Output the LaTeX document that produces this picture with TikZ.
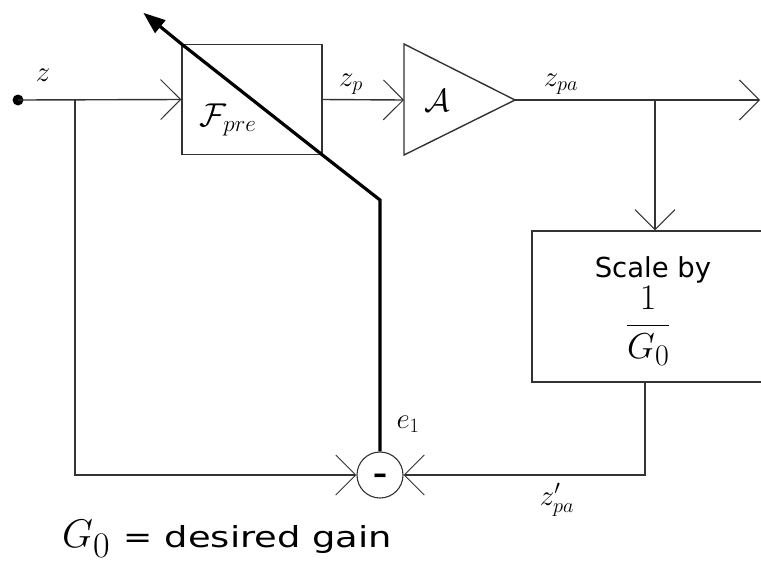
\RequirePackage{fix-cm}
\documentclass[tikz,border=0pt]{standalone}
\usepackage{amsmath}
\usepackage{graphicx}
\usepackage{fontspec}
\newfontfamily\dejavu{DejaVu Sans}
\usetikzlibrary{arrows.meta,calc}
\newcommand\fsz[1]{\fontsize{#1}{#1}\selectfont}
\newcommand\Gsub[2]{$G$\raisebox{-#2}{\fsz{#1}0}}
\begin{document}
\begin{tikzpicture}[x=1pt,y=-1pt,
  ln/.style={line width=1.4pt,draw=black!80},
  heavy/.style={line width=3.2pt,draw=black},
  barb/.style={-{Straight Barb[length=20pt,width=40pt,line width=1pt]}},
  boxnode/.style={draw=black!80,line width=1.4pt,inner sep=0pt},
  lbl/.style={inner sep=0pt,font=\fsz{29}}]
\useasboundingbox (0,0) rectangle (761,566);
\clip (0,0) rectangle (761,566);
\fill[white] (0,0) rectangle (761,566);

% nodes
\node[circle,fill=black,inner sep=0pt,minimum size=11pt] (in) at (18,100) {};
\node[boxnode,minimum width=140pt,minimum height=110pt] (fpre) at (252,99.5) {};
\node[boxnode,minimum width=243pt,minimum height=151pt] (scale) at (653.5,306.5) {};
\node[circle,draw=black!80,line width=1.1pt,inner sep=0pt,minimum size=46pt] (sum) at (380,475) {};

% amplifier
\coordinate (atop) at (404,44);
\coordinate (abot) at (404,155);
\coordinate (ain) at (404,100);
\coordinate (aout) at (515,100);
\draw[ln,line join=miter] (atop) -- (aout) -- (abot) -- cycle;

% helper coordinates
\coordinate (br1) at (75,100);
\coordinate (br2) at (655,100);
\coordinate (out) at (760,100);
\coordinate (sout) at (645,382);
\coordinate (bend) at (380,200);
\coordinate (tip) at ($(fpre.north west)+(-38,-31)$);

% connectors
\draw[ln,barb] (in.center) -- (fpre.west);
\draw[ln,barb] (fpre.east) -- (ain);
\draw[ln,barb] (aout) -- (out);
\draw[ln,barb] (br2) -- (br2 |- scale.north);
\draw[ln,barb] (br1) |- (sum.west);
\draw[ln,barb] (sout) |- (sum.east);
\draw[heavy,line join=miter,-{Triangle[length=22pt,width=16pt]}]
  (sum.north) -- (bend) -- (fpre.south east) -- (fpre.north west) -- (tip);

% texts
\node[lbl] (lz) at (43,75) {$z$};
\node[lbl] (lzp) at (351,84) {$z_p$};
\node[lbl] (lzpa) at (561,84) {$z_{pa}$};
\node[lbl] (le) at (408,424) {$e_1$};
\node[lbl] (lzpap) at (557,500) {$z'_{pa}$};
\node[inner sep=0pt,font=\fsz{33}] (lf) at (228,120) {$\mathcal{F}_{pre}$};
\node[inner sep=0pt,font=\fsz{32}] (la) at (437,101) {$\mathcal{A}$};
\node[inner sep=0pt,font=\fsz{27.5}\dejavu,anchor=base] (lscale) at (653,277) {Scale by};
\node[inner sep=0pt,font=\fsz{36},anchor=base] (lfrac) at (648,334)
  {$\dfrac{1}{\text{\Gsub{30}{7pt}}}$};
\node[inner sep=0pt,font=\fsz{28}\dejavu\bfseries,anchor=base] (minus) at (380,483.5) {–};
\node[inner sep=0pt,anchor=base west] (note) at (62,547)
  {\fsz{40}\Gsub{36}{10pt}\hspace{14pt}\fsz{29}\dejavu \scalebox{1.2}[1]{=}\hspace{12pt}\scalebox{1.27}[1]{desired gain}};
\end{tikzpicture}
\end{document}
